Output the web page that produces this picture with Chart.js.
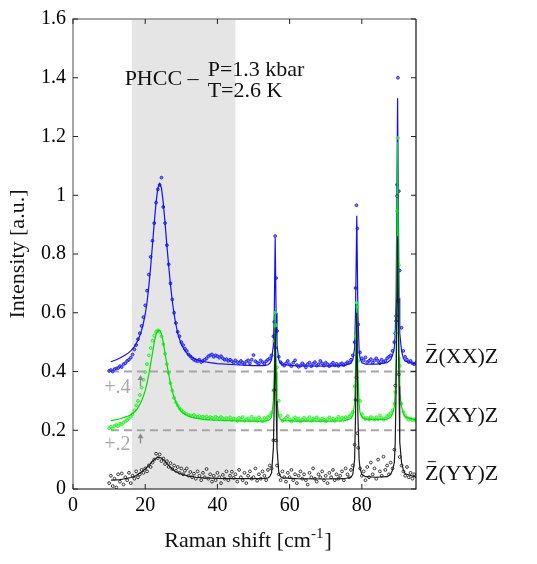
<!DOCTYPE html>
<html>
<head>
<meta charset="utf-8">
<script src="https://cdn.jsdelivr.net/npm/chart.js@4.4.0/dist/chart.umd.min.js"></script>
<style>
html, body { margin: 0; padding: 0; background: #fff; }
#wrap { width: 537px; height: 564px; position: relative; }
</style>
</head>
<body>
<div id="wrap"><canvas id="ramanCanvas"></canvas></div>
<script>
// measured Raman shift positions (cm-1)
var shift = [
  10,10.5,11,11.5,12,12.5,13,13.5,14,14.5,
  15,15.5,16,16.5,17,17.5,18,18.5,19,19.5,
  20,20.5,21,21.5,22,22.5,23,23.5,24,24.5,
  25,25.5,26,26.5,27,27.5,28,28.5,29,29.5,
  30,30.5,31,31.5,32,32.5,33,33.5,34,34.5,
  35,35.5,36,36.5,37,37.5,38,38.5,39,39.5,
  40,40.5,41,41.5,42,42.5,43,43.5,44,44.5,
  45,45.5,46,46.5,47,47.5,48,48.5,49,49.5,
  50,50.5,51,51.5,52,52.5,53,53.5,54,54.5,
  55,55.5,55.75,56,56.25,56.5,57,57.5,58,58.5,
  59,59.5,60,60.5,61,61.5,62,62.5,63,63.5,
  64,64.5,65,65.5,66,66.5,67,67.5,68,68.5,
  69,69.5,70,70.5,71,71.5,72,72.5,73,73.5,
  74,74.5,75,75.5,76,76.5,77,77.5,78,78.25,
  78.5,78.75,79,79.5,80,80.5,81,81.5,82,82.5,
  83,83.5,84,84.5,85,85.5,86,86.5,87,87.5,
  88,88.5,89,89.25,89.5,89.75,90,90.25,90.5,91,
  91.5,92,92.5,93,93.5,94,94.5,95
];

// Z(XX)Z, shifted by +0.4
var xxData = [
  .402,.405,.400,.408,.410,.412,.418,.415,.425,.428,
  .436,.440,.447,.458,.475,.490,.510,.530,.555,.585,
  .625,.675,.730,.790,.845,.905,.975,1.02,1.035,1.06,
  .960,.905,.830,.765,.700,.645,.600,.565,.535,.520,
  .500,.490,.478,.470,.458,.452,.445,.440,.437,.435,
  .440,.432,.436,.440,.445,.452,.455,.458,.450,.455,
  .452,.447,.452,.445,.440,.442,.436,.440,.435,.430,
  .438,.432,.428,.436,.430,.425,.434,.438,.428,.440,
  .456,.435,.430,.427,.438,.432,.426,.435,.440,.445,
  .455,.520,.569,.861,.718,.538,.450,.432,.425,.420,
  .428,.436,.424,.418,.430,.438,.422,.416,.420,.428,
  .422,.414,.425,.430,.418,.426,.432,.420,.425,.436,
  .428,.420,.430,.425,.418,.424,.430,.421,.426,.419,
  .425,.428,.422,.426,.432,.430,.440,.455,.500,.684,
  .966,.887,.560,.465,.445,.438,.448,.432,.436,.442,
  .430,.438,.445,.436,.428,.440,.432,.436,.445,.450,
  .455,.470,.500,.530,.572,1.036,1.400,1.014,.744,.549,
  .470,.450,.440,.432,.436,.428,.425,.430
];

// Z(XY)Z, shifted by +0.2
var xyData = [
  .207,.212,.205,.215,.218,.214,.222,.220,.226,.230,
  .235,.240,.246,.255,.268,.285,.300,.320,.345,.372,
  .398,.425,.455,.480,.505,.522,.535,.540,.535,.520,
  .493,.460,.425,.395,.360,.335,.310,.295,.285,.275,
  .268,.262,.258,.255,.252,.250,.248,.252,.246,.245,
  .248,.244,.246,.243,.247,.240,.245,.242,.238,.246,
  .242,.238,.245,.240,.236,.242,.238,.244,.235,.240,
  .238,.232,.242,.236,.245,.232,.238,.240,.233,.246,
  .236,.240,.232,.244,.238,.230,.242,.236,.245,.250,
  .260,.335,.504,.600,.558,.414,.300,.250,.232,.236,
  .242,.248,.236,.230,.238,.244,.235,.240,.230,.236,
  .242,.234,.238,.245,.232,.240,.236,.244,.238,.232,
  .240,.236,.230,.238,.244,.235,.240,.232,.238,.246,
  .236,.242,.238,.245,.240,.248,.252,.262,.350,.520,
  .634,.620,.436,.300,.255,.244,.238,.242,.236,.245,
  .240,.236,.244,.238,.250,.242,.236,.240,.248,.252,
  .258,.268,.290,.330,.530,.947,1.195,.763,.420,.290,
  .262,.250,.242,.236,.240,.234,.238,.232
];

// Z(YY)Z, no shift
var yyData = [
  .020,.045,.010,.035,.005,.050,.025,.053,.015,.040,
  .030,.055,.020,.045,.035,.060,.040,.050,.065,.055,
  .070,.060,.080,.075,.090,.100,.120,.105,.118,.095,
  .104,.085,.095,.075,.088,.068,.080,.062,.075,.055,
  .070,.050,.062,.070,.045,.058,.040,.052,.035,.060,
  .045,.030,.055,.040,.068,.035,.050,.025,.045,.030,
  .055,.040,.020,.048,.035,.060,.030,.045,.059,.038,
  .050,.025,.065,.040,.030,.055,.020,.045,.060,.035,
  .040,.070,.028,.050,.035,.060,.045,.030,.065,.080,
  .070,.166,.337,.481,.165,.080,.050,.030,.060,.040,
  .025,.055,.040,.065,.030,.050,.020,.045,.060,.035,
  .050,.030,.015,.055,.040,.070,.035,.025,.050,.040,
  .060,.030,.045,.020,.055,.040,.065,.030,.050,.035,
  .045,.060,.030,.070,.050,.040,.065,.080,.151,.303,
  .380,.190,.140,.070,.045,.060,.030,.075,.040,.090,
  .050,.070,.035,.100,.060,.045,.110,.065,.080,.050,
  .090,.070,.134,.352,.589,.997,.640,.390,.109,.080,
  .060,.045,.075,.040,.055,.035,.050,.045
];

// fitted curves
var fitShift = [
  10.5,12,13,14,15,16,17,17.5,18,18.5,
  19,19.5,20,20.5,21,21.5,22,22.5,23,23.5,
  24,24.5,25,25.5,26,26.5,27,27.5,28,28.5,
  29,30,31,32,33,34,36,38,40,45,
  50,53,54,54.5,55,55.5,55.75,56,56.25,56.5,
  57,57.5,58,62,70,75,77,77.5,78,78.25,
  78.6,78.9,79.25,79.5,80,81,84,87,88,88.5,
  89,89.25,89.5,89.9,90.3,90.5,91,91.5,92,95
];
var xxFit = [
  .433,.440,.446,.453,.460,.470,.485,.495,.508,.522,
  .540,.565,.595,.635,.690,.755,.830,.905,.975,1.025,
  1.040,1.025,.975,.905,.830,.760,.695,.640,.595,.560,
  .530,.492,.470,.456,.448,.442,.434,.430,.427,.423,
  .420,.420,.423,.428,.440,.490,.600,.855,.600,.490,
  .440,.428,.423,.419,.418,.420,.428,.440,.480,.600,
  .930,.600,.470,.445,.430,.425,.425,.430,.440,.455,
  .480,.530,.650,1.330,.650,.530,.470,.445,.435,.425
];
var xyFit = [
  .233,.236,.239,.243,.247,.253,.262,.268,.277,.288,
  .300,.316,.335,.360,.390,.425,.462,.498,.527,.540,
  .540,.528,.500,.462,.425,.390,.360,.333,.312,.296,
  .283,.265,.255,.248,.244,.241,.237,.235,.234,.232,
  .231,.231,.233,.237,.245,.300,.400,.600,.400,.300,
  .245,.237,.233,.231,.231,.232,.240,.250,.290,.400,
  .630,.400,.290,.260,.245,.238,.236,.238,.245,.255,
  .280,.330,.450,1.180,.450,.330,.280,.258,.245,.235
];
var yyFit = [
  .030,.031,.032,.034,.036,.039,.043,.046,.050,.054,
  .058,.063,.068,.074,.080,.087,.094,.100,.105,.108,
  .108,.105,.100,.094,.087,.080,.074,.068,.063,.059,
  .056,.051,.047,.044,.042,.040,.038,.037,.036,.035,
  .035,.036,.038,.042,.055,.140,.300,.550,.300,.140,
  .055,.042,.038,.035,.034,.035,.040,.050,.100,.250,
  .600,.250,.100,.070,.050,.042,.040,.042,.050,.065,
  .090,.160,.350,.860,.350,.160,.090,.065,.052,.040
];

// offsets and shaded fit window
var offsetLevels = [0.4, 0.2];
var offsetRange = [10.5, 95];
var shadeRange = [16.3, 45];
var seriesNames = ['Z(XX)Z', 'Z(XY)Z', 'Z(YY)Z'];
var seriesLabelY = [0.453, 0.252, 0.054];

var FONT = '"Liberation Serif", "Times New Roman", serif';

function pairs(xs, ys) {
    return xs.map(function (x, i) { return { x: x, y: ys[i] }; });
}

function fitSet(ys, color) {
    return {
        data: pairs(fitShift, ys), showLine: true, pointRadius: 0,
        borderColor: color, borderWidth: 1.2, fill: false
    };
}

function pointSet(ys, color, fillColor) {
    return {
        data: pairs(shift, ys), showLine: false, pointRadius: 1.4,
        pointBorderWidth: 0.9, borderColor: color, backgroundColor: fillColor,
        pointBorderColor: color, pointBackgroundColor: fillColor
    };
}

var datasets = [
    fitSet(yyFit, '#1a1a1a'),
    pointSet(yyData, '#222222', 'rgba(255,255,255,0.5)'),
    fitSet(xyFit, '#00e000'),
    pointSet(xyData, '#1ef01e', 'rgba(110,255,110,0.7)'),
    fitSet(xxFit, '#1010ff'),
    pointSet(xxData, '#1a1aff', 'rgba(90,90,255,0.7)')
];
offsetLevels.forEach(function (lvl) {
    datasets.push({
        data: [{ x: offsetRange[0], y: lvl }, { x: offsetRange[1], y: lvl }],
        showLine: true, pointRadius: 0, borderColor: '#a6a6a6',
        borderWidth: 2, borderDash: [8, 5], fill: false
    });
});

var decorations = {
    id: 'decorations',
    beforeDatasetsDraw: function (chart) {
        var ctx = chart.ctx, a = chart.chartArea, xs = chart.scales.x;
        var x0 = xs.getPixelForValue(shadeRange[0]);
        var x1 = xs.getPixelForValue(shadeRange[1]);
        ctx.save();
        ctx.fillStyle = '#e5e5e5';
        ctx.fillRect(x0, a.top, x1 - x0, a.bottom - a.top);
        ctx.restore();
    },
    afterDraw: function (chart) {
        var ctx = chart.ctx, a = chart.chartArea;
        var xs = chart.scales.x, ys = chart.scales.y;
        ctx.save();

        // box: top/left grey, right/bottom black
        ctx.lineWidth = 1.5;
        ctx.strokeStyle = '#8a8a8a';
        ctx.beginPath();
        ctx.moveTo(a.left, a.bottom); ctx.lineTo(a.left, a.top); ctx.lineTo(a.right, a.top);
        ctx.stroke();
        ctx.lineWidth = 1.2;
        ctx.strokeStyle = '#111';
        ctx.beginPath();
        ctx.moveTo(a.right, a.top); ctx.lineTo(a.right, a.bottom); ctx.lineTo(a.left, a.bottom);
        ctx.stroke();

        // inward ticks on all four sides
        ctx.lineWidth = 1;
        ctx.strokeStyle = '#222';
        ctx.beginPath();
        xs.ticks.forEach(function (t) {
            var px = xs.getPixelForValue(t.value);
            ctx.moveTo(px, a.bottom); ctx.lineTo(px, a.bottom - 5);
            ctx.moveTo(px, a.top); ctx.lineTo(px, a.top + 5);
        });
        ys.ticks.forEach(function (t) {
            var py = ys.getPixelForValue(t.value);
            ctx.moveTo(a.left, py); ctx.lineTo(a.left + 5, py);
            ctx.moveTo(a.right, py); ctx.lineTo(a.right - 5, py);
        });
        ctx.stroke();

        // sample / conditions text
        ctx.fillStyle = '#111';
        ctx.font = '22px ' + FONT;
        ctx.textBaseline = 'middle';
        ctx.textAlign = 'left';
        ctx.fillText('PHCC \u2013', xs.getPixelForValue(14.3), ys.getPixelForValue(1.395));
        ctx.fillText('P=1.3 kbar', xs.getPixelForValue(37.3), ys.getPixelForValue(1.424));
        ctx.fillText('T=2.6 K', xs.getPixelForValue(37.3), ys.getPixelForValue(1.355));

        // offset markers
        ctx.fillStyle = '#a8a8a8';
        ctx.font = '20px ' + FONT;
        ctx.textAlign = 'center';
        ctx.fillText('+.4', xs.getPixelForValue(12.3), ys.getPixelForValue(0.346));
        ctx.fillText('+.2', xs.getPixelForValue(12.3), ys.getPixelForValue(0.149));
        ctx.strokeStyle = '#8c8c8c';
        ctx.fillStyle = '#8c8c8c';
        ctx.lineWidth = 1.3;
        [[0.35, 0.388], [0.155, 0.19]].forEach(function (ar) {
            var px = xs.getPixelForValue(18.7);
            var yb = ys.getPixelForValue(ar[0]), yt = ys.getPixelForValue(ar[1]);
            ctx.beginPath();
            ctx.moveTo(px, yb); ctx.lineTo(px, yt + 4);
            ctx.stroke();
            ctx.beginPath();
            ctx.moveTo(px, yt); ctx.lineTo(px - 3, yt + 5); ctx.lineTo(px + 3, yt + 5);
            ctx.closePath();
            ctx.fill();
        });

        // polarisation labels at the right
        ctx.fillStyle = '#111';
        ctx.strokeStyle = '#111';
        ctx.font = '22px ' + FONT;
        ctx.textAlign = 'left';
        ctx.textBaseline = 'alphabetic';
        var zw = ctx.measureText('Z').width;
        seriesNames.forEach(function (name, i) {
            var lx = a.right + 9;
            var base = ys.getPixelForValue(seriesLabelY[i]) + 7;
            ctx.fillText(name, lx, base);
            ctx.lineWidth = 1;
            ctx.beginPath();
            ctx.moveTo(lx + zw * 0.2, base - 18.5);
            ctx.lineTo(lx + zw * 0.8, base - 18.5);
            ctx.stroke();
        });

        // axis titles
        ctx.font = '22px ' + FONT;
        var main = 'Raman shift [cm', sup = '-1', end = ']';
        var w1 = ctx.measureText(main).width, w3 = ctx.measureText(end).width;
        ctx.font = '15px ' + FONT;
        var w2 = ctx.measureText(sup).width;
        var tx = (a.left + a.right) / 2 + 3 - (w1 + w2 + w3) / 2;
        var ty = a.bottom + 58;
        ctx.font = '22px ' + FONT;
        ctx.fillText(main, tx, ty);
        ctx.font = '15px ' + FONT;
        ctx.fillText(sup, tx + w1, ty - 9);
        ctx.font = '22px ' + FONT;
        ctx.fillText(end, tx + w1 + w2 + 1, ty);

        ctx.translate(18, (a.top + a.bottom) / 2);
        ctx.rotate(-Math.PI / 2);
        ctx.textAlign = 'center';
        ctx.textBaseline = 'middle';
        ctx.fillText('Intensity [a.u.]', 0, 0);
        ctx.restore();
    }
};

var ctx = document.getElementById('ramanCanvas').getContext('2d');
var ramanChart = new Chart(ctx, {
    type: 'scatter',
    data: { datasets: datasets },
    options: {
        responsive: true,
        maintainAspectRatio: false,
        animation: false,
        layout: { padding: { left: 0, top: 16, right: 121, bottom: 0 } },
        plugins: { legend: { display: false }, tooltip: { enabled: false } },
        scales: {
            x: {
                type: 'linear', min: 0, max: 95,
                afterFit: function (s) { s.height = 75; },
                grid: { display: false, drawTicks: false },
                border: { display: false },
                ticks: {
                    stepSize: 20, includeBounds: false, maxRotation: 0,
                    color: '#000', padding: 5,
                    font: { family: FONT, size: 20 }
                }
            },
            y: {
                min: 0, max: 1.6,
                afterFit: function (s) { s.width = 73; },
                grid: { display: false, drawTicks: false },
                border: { display: false },
                ticks: {
                    stepSize: 0.2, color: '#000', padding: 7,
                    font: { family: FONT, size: 20 },
                    callback: function (v) { return String(Math.round(v * 10) / 10); }
                }
            }
        }
    },
    plugins: [decorations]
});
</script>
</body>
</html>
